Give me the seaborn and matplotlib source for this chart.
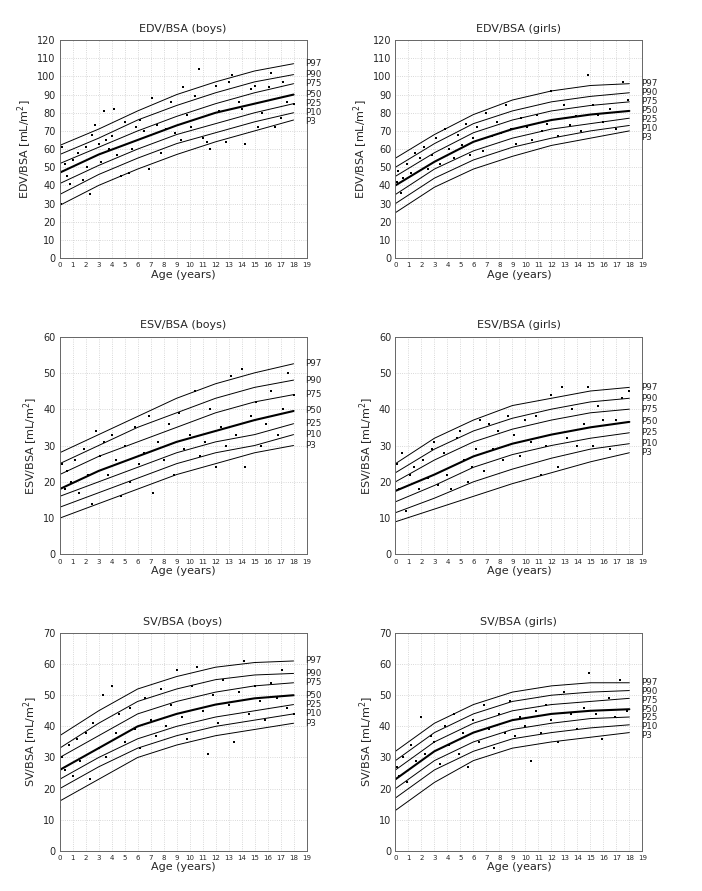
import numpy as np
import pandas as pd
import matplotlib
matplotlib.use("Agg")
import matplotlib.pyplot as plt
import seaborn as sns

sns.set_style("white")

ages = [0, 3, 6, 9, 12, 15, 18]
pct_names = ["P97", "P90", "P75", "P50", "P25", "P10", "P3"]

edv_boys = [[62, 71, 81, 90, 97, 103, 107], [57, 66, 76, 84, 91, 97, 101],
            [52, 61, 70, 78, 85, 91, 96], [47, 57, 65, 73, 80, 85, 90],
            [41, 51, 60, 68, 74, 80, 85], [35, 46, 55, 63, 69, 75, 80],
            [29, 40, 49, 57, 64, 70, 76]]
edv_girls = [[55, 68, 79, 87, 92, 95, 96], [50, 63, 74, 81, 86, 89, 91],
             [45, 58, 69, 76, 81, 84, 86], [40, 53, 64, 71, 76, 79, 81],
             [35, 49, 59, 66, 71, 74, 77], [30, 44, 54, 61, 66, 70, 73],
             [25, 39, 49, 56, 62, 66, 70]]
esv_boys = [[28, 33, 38, 43, 47, 50, 52.5], [25, 30, 35, 39, 43, 46, 48],
            [22, 27, 31, 35, 39, 42, 44], [18, 23, 27, 31, 34, 37, 39.5],
            [16, 20, 24, 28, 31, 33, 36], [13, 17, 21, 25, 28, 30, 33],
            [10, 14, 18, 22, 25, 28, 30]]
esv_girls = [[25, 32, 37, 41, 43, 45, 46], [22.5, 29, 34, 37.5, 40, 42, 43],
             [20, 26, 31, 34.5, 37, 39, 40], [17.5, 22, 27, 30.5, 33, 35, 36.5],
             [14.5, 19, 24, 27.5, 30, 32, 33.5], [11.5, 15.5, 20, 23.5, 26.5, 29, 30.5],
             [9, 12.5, 16, 19.5, 22.5, 25.5, 28]]
sv_boys = [[37, 45, 52, 56, 59, 60.5, 61], [33, 41, 48, 52, 55, 56.5, 57],
           [30, 37, 44, 48, 51, 53, 54], [26, 33, 40, 44, 47, 49, 50],
           [23, 30, 36, 40, 43, 45, 47], [20, 27, 33, 37, 40, 42, 44],
           [16, 23, 30, 34, 37, 39, 41]]
sv_girls = [[32, 41, 47, 51, 53, 54, 54], [29, 38, 44, 48, 50, 51, 51.5],
            [26, 35, 41, 45, 47, 48, 49], [23, 32, 38, 42, 44, 45, 45.5],
            [20, 29, 35, 39, 41, 42.5, 43], [17, 26, 32, 36, 38, 39.5, 40.5],
            [13, 22, 29, 33, 35, 36.5, 38]]

# scatter points (age, value) read approx. from the picture
edv_boys_x = [0, 0, 0.1, 0.2, 0.4, 0.6, 0.8, 1.0, 1.4, 1.8, 2.0, 2.1, 2.3, 2.5, 2.7, 3.0, 3.2, 3.4, 3.6, 3.8,
              4.0, 4.2, 4.4, 4.7, 5.0, 5.3, 5.6, 5.9, 6.2, 6.5, 6.9, 7.1, 7.5, 7.8, 8.2, 8.6, 8.9, 9.3,
              9.5, 9.8, 10.1, 10.4, 10.7, 11.0, 11.3, 11.6, 12.0, 12.3, 12.8, 13.0, 13.3, 13.8, 14.0,
              14.3, 14.7, 15.0, 15.3, 15.6, 16.1, 16.3, 16.6, 17.0, 17.2, 17.5, 18.0]
edv_boys_y = [39, 23, 30, 61, 52, 45, 41, 54, 58, 43, 61, 50, 35, 68, 73, 63, 53, 81, 65, 60,
              67, 82, 57, 45, 75, 47, 60, 72, 76, 70, 49, 88, 73, 58, 71, 86, 69, 65,
              94, 79, 72, 89, 104, 66, 64, 60, 95, 81, 64, 97, 101, 86, 82,
              63, 93, 95, 72, 80, 94, 102, 72, 77, 97, 86, 85]
edv_girls_x = [0, 0, 0.1, 0.2, 0.4, 0.6, 0.9, 1.2, 1.5, 1.9, 2.2, 2.5, 2.8, 3.1, 3.4, 3.8, 4.1, 4.5,
               4.8, 5.1, 5.4, 5.7, 6.0, 6.3, 6.7, 7.0, 7.4, 7.8, 8.1, 8.5, 8.9, 9.3, 9.7, 10.1, 10.5,
               10.9, 11.3, 11.7, 12.0, 12.5, 13.0, 13.4, 13.9, 14.3, 14.8, 15.2, 15.6, 16.0, 16.5,
               17.0, 17.5, 17.9]
edv_girls_y = [22, 30, 42, 48, 36, 44, 52, 47, 58, 55, 61, 49, 57, 66, 52, 71, 60, 55,
               68, 62, 74, 57, 66, 72, 59, 80, 67, 75, 69, 84, 71, 63, 77, 72, 65,
               79, 70, 74, 92, 67, 84, 73, 78, 70, 101, 84, 79, 75, 82,
               71, 97, 87]
esv_boys_x = [0, 0, 0.2, 0.4, 0.6, 0.9, 1.2, 1.5, 1.9, 2.2, 2.5, 2.8, 3.1, 3.4, 3.7, 4.0, 4.3, 4.7,
              5.0, 5.4, 5.8, 6.1, 6.5, 6.9, 7.2, 7.6, 8.0, 8.4, 8.8, 9.2, 9.6, 10.0, 10.4, 10.8, 11.2,
              11.6, 12.0, 12.4, 12.8, 13.2, 13.6, 14.0, 14.3, 14.7, 15.1, 15.5, 15.9, 16.3, 16.8,
              17.2, 17.6, 18.0]
esv_boys_y = [15, 21, 25, 18, 23, 20, 26, 17, 29, 22, 14, 34, 27, 31, 22, 33, 26, 16,
              30, 20, 35, 25, 28, 38, 17, 31, 26, 36, 22, 39, 29, 33, 45, 27, 31,
              40, 24, 35, 30, 49, 33, 51, 24, 38, 42, 30, 36, 45, 33,
              40, 50, 44]
esv_girls_x = [0, 0, 0.1, 0.3, 0.5, 0.8, 1.1, 1.4, 1.8, 2.1, 2.5, 2.8, 3.0, 3.3, 3.7, 4.0, 4.3, 4.7,
               5.0, 5.3, 5.6, 5.9, 6.2, 6.5, 6.8, 7.2, 7.5, 7.9, 8.3, 8.7, 9.1, 9.6, 10.0, 10.4,
               10.8, 11.2, 11.6, 12.0, 12.5, 12.8, 13.2, 13.6, 14.0, 14.5, 14.8, 15.2, 15.6, 16.0,
               16.5, 17.0, 17.4, 18.0]
esv_girls_y = [7, 11, 25, 18, 28, 12, 22, 24, 18, 26, 21, 29, 31, 19, 28, 22, 18, 32,
               34, 26, 20, 24, 29, 37, 23, 36, 29, 34, 26, 38, 33, 27, 37, 31,
               38, 22, 30, 44, 24, 46, 32, 40, 30, 36, 46, 30, 41, 37,
               29, 37, 43, 45]
sv_boys_x = [0, 0, 0.2, 0.4, 0.7, 1.0, 1.3, 1.6, 2.0, 2.3, 2.6, 3.0, 3.3, 3.6, 4.0, 4.3, 4.6, 5.0,
             5.4, 5.8, 6.2, 6.6, 7.0, 7.4, 7.8, 8.2, 8.6, 9.0, 9.4, 9.8, 10.2, 10.6, 11.0, 11.4,
             11.8, 12.2, 12.6, 13.0, 13.4, 13.8, 14.2, 14.6, 15.0, 15.4, 15.8, 16.3, 16.7, 17.1,
             17.5, 18.0]
sv_boys_y = [14, 22, 30, 26, 34, 24, 36, 29, 38, 23, 41, 33, 50, 30, 53, 38, 44, 35,
             46, 39, 33, 49, 42, 37, 52, 40, 47, 58, 43, 36, 53, 59, 45, 31,
             50, 41, 55, 47, 35, 51, 61, 44, 53, 48, 42, 54, 49, 58,
             46, 44]
sv_girls_x = [0, 0, 0.1, 0.3, 0.6, 0.9, 1.2, 1.6, 2.0, 2.3, 2.7, 3.0, 3.4, 3.8, 4.1, 4.5, 4.9,
              5.2, 5.6, 6.0, 6.4, 6.8, 7.2, 7.6, 8.0, 8.4, 8.8, 9.2, 9.6, 10.0, 10.4, 10.8, 11.2,
              11.6, 12.0, 12.5, 13.0, 13.5, 14.0, 14.5, 14.9, 15.4, 15.9, 16.4, 16.9, 17.3, 17.8]
sv_girls_y = [14, 20, 27, 24, 30, 22, 34, 29, 43, 31, 37, 35, 28, 40, 34, 44, 31,
              38, 27, 42, 35, 47, 39, 33, 44, 38, 48, 37, 43, 40, 29, 45, 38,
              47, 42, 35, 51, 44, 39, 46, 57, 44, 36, 49, 43, 55, 45]

panels = [
    ("EDV/BSA (boys)", "EDV/BSA", edv_boys, edv_boys_x, edv_boys_y, 120),
    ("EDV/BSA (girls)", "EDV/BSA", edv_girls, edv_girls_x, edv_girls_y, 120),
    ("ESV/BSA (boys)", "ESV/BSA", esv_boys, esv_boys_x, esv_boys_y, 60),
    ("ESV/BSA (girls)", "ESV/BSA", esv_girls, esv_girls_x, esv_girls_y, 60),
    ("SV/BSA (boys)", "SV/BSA", sv_boys, sv_boys_x, sv_boys_y, 70),
    ("SV/BSA (girls)", "SV/BSA", sv_girls, sv_girls_x, sv_girls_y, 70),
]

fig, axes = plt.subplots(3, 2, figsize=(7.02, 8.91), dpi=100)
plt.subplots_adjust(left=0.085, right=0.915, top=0.955, bottom=0.045, wspace=0.36, hspace=0.36)

for ax, (title, ylab, curves, sx, sy, ymax) in zip(axes.flat, panels):
    gap = ymax * 0.04
    label_y = None
    for name, vals in zip(pct_names, curves):
        lw = 1.5 if name == "P50" else 0.7
        sns.lineplot(x=ages, y=vals, ax=ax, color="black", linewidth=lw)
        # keep labels from overlapping
        label_y = vals[-1] if label_y is None else min(vals[-1], label_y - gap)
        ax.text(18.9, label_y, name, fontsize=6.3, va="center", ha="left", clip_on=False)
    sns.scatterplot(x=sx, y=sy, ax=ax, color="black", s=4, marker="s", linewidth=0)
    ax.set_xlim(0, 19)
    ax.set_ylim(0, ymax)
    ax.set_xticks(range(0, 20))
    ax.set_yticks(range(0, ymax + 1, 10))
    ax.tick_params(axis="x", labelsize=5, length=2, pad=1)
    ax.tick_params(axis="y", labelsize=7, length=2, pad=1)
    ax.grid(True, linestyle=":", color="#cccccc", linewidth=0.6)
    ax.set_title(title, fontsize=8)
    ax.set_xlabel("Age (years)", fontsize=8, labelpad=1)
    ax.set_ylabel(ylab + " [mL/m$^2$]", fontsize=8, labelpad=2)
    for sp in ax.spines.values():
        sp.set_color("#666666")
        sp.set_linewidth(0.7)

fig.savefig("out.png", dpi=100)
